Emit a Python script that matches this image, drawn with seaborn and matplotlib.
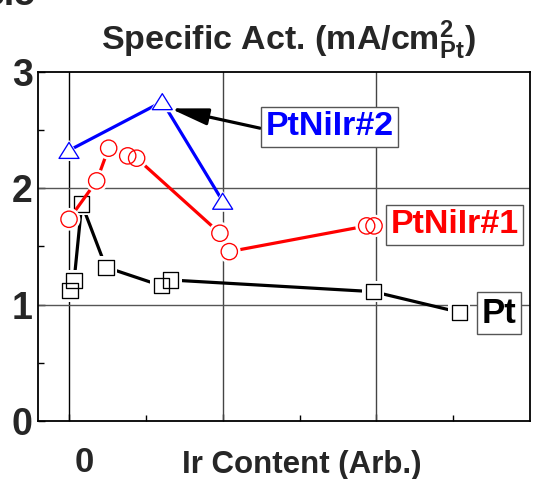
import numpy as np
import pandas as pd
import matplotlib
matplotlib.use("Agg")
import matplotlib.pyplot as plt
import seaborn as sns
from matplotlib.path import Path
from matplotlib.markers import MarkerStyle

# ---- data ----
x_pt = [0.007, 0.033, 0.083, 0.24, 0.60, 0.662, 1.98, 2.54]
y_pt = [1.12, 1.206, 1.866, 1.322, 1.163, 1.212, 1.112, 0.935]

x_ir1 = [0.0, 0.18, 0.258, 0.382, 0.44, 0.982, 1.043, 1.937, 1.985]
y_ir1 = [1.734, 2.064, 2.345, 2.279, 2.259, 1.614, 1.456, 1.677, 1.677]

x_ir2 = [0.0, 0.607, 1.0]
y_ir2 = [2.326, 2.745, 1.889]

series_names = ["Pt", "PtNiIr#1", "PtNiIr#2"]
y_ticks = [0, 1, 2, 3]
y_tick_labels = ["0", "1", "2", "3"]
x_tick_label = "0"
title_text = "Specific Act. (mA/cm$^{2}_{Pt}$)"
xlabel_text = "Ir Content (Arb.)"

sns.set_style("ticks")
FONT = "Liberation Sans"
plt.rcParams["font.family"] = [FONT, "DejaVu Sans"]
plt.rcParams["mathtext.fontset"] = "custom"
plt.rcParams["mathtext.rm"] = f"{FONT}:bold"
plt.rcParams["mathtext.it"] = f"{FONT}:bold"
plt.rcParams["mathtext.bf"] = f"{FONT}:bold"
plt.rcParams["mathtext.sf"] = f"{FONT}:bold"

fig = plt.figure(figsize=(5.34, 4.79), dpi=100)
fig.patch.set_facecolor("white")
ax = fig.add_axes([0.0717, 0.1211, 0.9208, 0.7286])
ax.set_xlim(-0.2, 3.0)
ax.set_ylim(0, 3)

# grid lines
for xv in [0, 1, 2]:
    ax.axvline(xv, color="black" if xv == 0 else "#444444", lw=1.0, zorder=1)
for yv in [1, 2]:
    ax.axhline(yv, color="#555555", lw=1.0, zorder=1)

tri = MarkerStyle(Path([(0, 0.8), (-1, -0.8), (1, -0.8), (0, 0.8)],
                       [Path.MOVETO, Path.LINETO, Path.LINETO, Path.CLOSEPOLY]))

PX = 0.72  # points per pixel at dpi 100
GAP = 3.2  # pixels of white gap around markers
series = [
    (x_pt, y_pt, "black", "s", 15.3),
    (x_ir1, y_ir1, "#ff0000", "o", 16.3),
    (x_ir2, y_ir2, "#0000ff", tri, 20.0),
]
z = 2
for xs, ys, col, mk, size_px in series:
    df = pd.DataFrame({"x": xs, "y": ys})
    sns.lineplot(data=df, x="x", y="y", color=col, lw=2.3, sort=False,
                 estimator=None, ax=ax, zorder=z, solid_capstyle="butt")
    ms = size_px * PX
    halo = (size_px + 2 * GAP) * PX
    sns.scatterplot(data=df, x="x", y="y", marker=mk, s=halo ** 2,
                    color="white", edgecolor="none", linewidth=0, ax=ax,
                    zorder=z + 1)
    sns.scatterplot(data=df, x="x", y="y", marker=mk, s=ms ** 2,
                    facecolor="none", edgecolor=col, linewidth=0.95, ax=ax,
                    zorder=z + 2)
    z += 3

# labels in boxes
box = dict(boxstyle="square,pad=0.13", facecolor="white", edgecolor="#555555",
           lw=1.0)
ax.text(1.698, 2.528, series_names[2], color="#0000ff", fontsize=24.5,
        fontweight="bold", ha="center", va="center", bbox=box, zorder=20)
ax.text(2.509, 1.685, series_names[1], color="#ff0000", fontsize=24.5,
        fontweight="bold", ha="center", va="center", bbox=box, zorder=20)
ax.text(2.796, 0.926, series_names[0], color="black", fontsize=25,
        fontweight="bold", ha="center", va="center", bbox=box, zorder=20)

# arrow pointing to PtNiIr#2
ax.annotate("", xy=(0.657, 2.687), xytext=(1.243, 2.517),
            arrowprops=dict(arrowstyle="-|>,head_length=1.9,head_width=0.42",
                            color="black", lw=2.3, shrinkA=0, shrinkB=0,
                            mutation_scale=12), zorder=19)

# axes styling
for sp in ax.spines.values():
    sp.set_color("black")
    sp.set_linewidth(1.3)
    sp.set_zorder(25)
ax.set_xticks([0, 1, 2])
ax.set_xticklabels(["", "", ""])
ax.set_xticks([0.5, 1.5, 2.5], minor=True)
ax.set_yticks(y_ticks)
ax.set_yticklabels(y_tick_labels, fontsize=27, fontweight="bold")
ax.set_yticks([0.5, 1.5, 2.5], minor=True)
ax.tick_params(axis="both", which="both", direction="in", color="black",
               width=1.0)
ax.tick_params(axis="both", which="major", length=5)
ax.tick_params(axis="both", which="minor", length=4)
ax.tick_params(axis="y", which="major", pad=4)
ax.set_xlabel("")
ax.set_ylabel("")

# x "0" label, offset to the right of the tick as in the reference
ax.annotate(x_tick_label, xy=(0, 0), xycoords=("data", "axes fraction"),
            xytext=(15 * PX, -25 * PX), textcoords="offset points",
            ha="center", va="top", fontsize=25, fontweight="bold")

# x axis title
fig.text(301.5 / 534, 6 / 479, xlabel_text, ha="center", va="baseline",
         fontsize=22.5, fontweight="bold")

# chart title
fig.text(288 / 534, (479 - 50) / 479, title_text, ha="center",
         va="baseline", fontsize=24.5, fontweight="bold")

# clipped leftover label at top-left
fig.text(35 / 534, (479 - 5) / 479, "3.5", ha="right", va="baseline",
         fontsize=27, fontweight="bold")

fig.savefig("out.png", dpi=100, facecolor="white")
